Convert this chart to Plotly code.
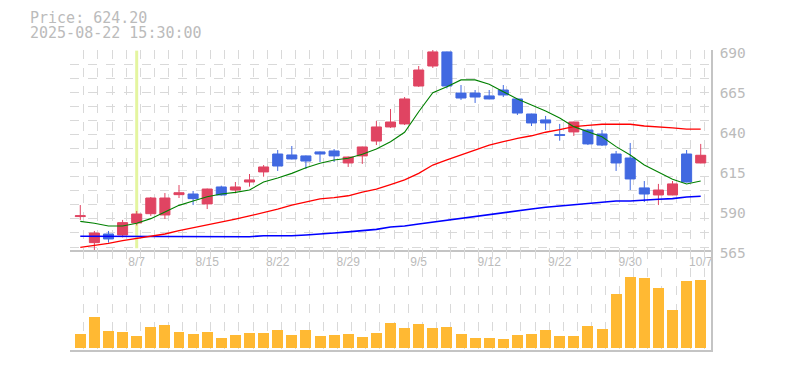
import plotly.graph_objects as go

# ---------------- data ----------------
dates = ["8/1", "8/4", "8/5", "8/6", "8/7", "8/8", "8/12", "8/13", "8/14", "8/15",
         "8/18", "8/19", "8/20", "8/21", "8/22", "8/25", "8/26", "8/27", "8/28", "8/29",
         "9/1", "9/2", "9/3", "9/4", "9/5", "9/8", "9/9", "9/10", "9/11", "9/12",
         "9/16", "9/17", "9/18", "9/19", "9/22", "9/24", "9/25", "9/26", "9/29", "9/30",
         "10/1", "10/2", "10/3", "10/6", "10/7"]

opens = [585.9, 569.6, 575.0, 574.4, 581.9, 587.7, 586.9, 599.6, 600.0, 593.8,
         604.4, 602.5, 607.5, 613.8, 625.0, 624.4, 623.8, 626.3, 626.9, 619.4,
         623.8, 633.1, 641.9, 643.8, 667.5, 680.0, 688.8, 663.1, 663.1, 661.3,
         665.0, 659.4, 650.0, 646.3, 637.1, 638.8, 640.0, 637.5, 625.0, 622.5,
         603.8, 599.4, 599.4, 625.0, 619.4]
highs = [593.1, 576.9, 576.9, 583.8, 589.4, 598.1, 600.6, 605.6, 601.9, 603.4,
         605.2, 607.5, 612.5, 618.1, 627.5, 630.0, 624.1, 626.6, 628.1, 623.4,
         629.6, 645.6, 653.1, 660.6, 680.0, 690.0, 689.0, 668.1, 665.0, 665.0,
         668.1, 659.6, 650.2, 648.8, 643.8, 645.2, 640.6, 640.0, 626.9, 631.9,
         608.1, 606.3, 608.1, 627.5, 631.3]
lows = [583.8, 565.0, 569.6, 572.9, 580.4, 586.3, 584.4, 597.5, 593.1, 590.6,
        599.0, 600.4, 604.6, 610.8, 614.4, 621.6, 615.6, 620.0, 620.0, 616.9,
        618.8, 630.6, 641.3, 643.1, 666.9, 678.8, 666.0, 658.8, 656.9, 659.2,
        660.6, 649.4, 642.5, 640.0, 633.3, 636.3, 630.6, 630.0, 614.4, 602.5,
        595.0, 593.1, 599.2, 607.3, 619.2]
closes = [586.4, 575.6, 571.9, 582.1, 587.5, 597.5, 597.5, 600.8, 597.1, 603.1,
          599.4, 604.4, 608.8, 616.9, 617.5, 621.9, 620.6, 625.0, 623.8, 623.1,
          629.4, 641.9, 645.0, 659.4, 677.5, 688.8, 667.5, 660.0, 660.6, 659.4,
          661.9, 650.6, 644.4, 644.4, 636.7, 645.0, 631.3, 630.6, 619.4, 609.4,
          600.0, 602.5, 606.3, 607.5, 624.2]

ma_short = [582.9, 581.7, 580.0, 580.0, 581.7, 584.6, 588.8, 592.9, 595.6, 598.3,
            600.0, 601.0, 602.5, 607.5, 610.0, 612.9, 616.4, 619.2, 621.3, 622.3,
            624.8, 628.1, 632.7, 638.6, 651.4, 663.3, 667.1, 671.3, 671.3, 668.6,
            663.9, 659.4, 655.6, 651.9, 647.5, 642.1, 638.9, 635.8, 629.6, 624.4,
            618.1, 613.9, 609.2, 606.3, 608.1]
ma_mid = [566.7, 567.9, 569.2, 570.8, 572.3, 573.8, 575.0, 577.1, 578.9, 580.6,
          582.1, 584.3, 586.3, 588.3, 590.6, 593.1, 595.2, 596.9, 597.7, 598.9,
          601.1, 603.1, 605.9, 608.8, 612.9, 618.1, 621.3, 624.4, 627.9, 630.6,
          632.7, 634.8, 636.4, 638.6, 640.2, 642.1, 642.9, 643.6, 643.6, 643.6,
          642.5, 642.1, 641.3, 640.6, 640.6]
ma_long = [573.6, 573.6, 573.6, 573.6, 573.6, 573.6, 573.3, 573.3, 573.3, 573.3,
           573.3, 573.3, 573.3, 573.9, 573.9, 573.9, 574.4, 575.2, 575.6, 576.3,
           577.1, 577.9, 579.4, 580.0, 581.3, 582.5, 583.8, 584.8, 586.1, 587.3,
           588.6, 589.8, 590.6, 591.7, 592.4, 593.1, 594.2, 594.8, 595.6, 595.6,
           596.3, 596.7, 597.1, 598.1, 598.6]

volumes = [41000, 92000, 50000, 47000, 35000, 62000, 68000, 47000, 41000, 47000,
           29000, 38000, 44000, 44000, 53000, 38000, 53000, 35000, 38000, 41000,
           32000, 44000, 74000, 59000, 71000, 59000, 62000, 41000, 29000, 29000,
           26000, 38000, 41000, 53000, 35000, 35000, 65000, 56000, 161000, 212000,
           209000, 179000, 113000, 200000, 203000]

tick_dates = ["8/7", "8/15", "8/22", "8/29", "9/5", "9/12", "9/22", "9/30", "10/7"]
price_ticks = [565, 590, 615, 640, 665, 690]
highlight_date = "8/7"
title_lines = ["Price: 624.20", "2025-08-22 15:30:00"]

# ---------------- styles ----------------
UP = "#E04462"
DOWN = "#4169E1"
VOL = "#FFB933"
GRID = "#d9d9d9"
AXIS = "#c4c4c4"
TXT = "#bbbbbb"
MONO = "DejaVu Sans Mono"

x = list(range(len(dates)))
xr = [-0.73, len(dates) - 1 + 0.73]

fig = go.Figure()

fig.add_trace(go.Candlestick(
    x=x, open=opens, high=highs, low=lows, close=closes,
    increasing=dict(line=dict(color=UP, width=1), fillcolor=UP),
    decreasing=dict(line=dict(color=DOWN, width=1), fillcolor=DOWN),
    whiskerwidth=0, showlegend=False, hoverinfo="skip",
    xaxis="x", yaxis="y"))

for vals, col, w in [(ma_long, "#0000FF", 1.6), (ma_mid, "#FF0000", 1.3), (ma_short, "#008000", 1.1)]:
    fig.add_trace(go.Scatter(x=x, y=vals, mode="lines", line=dict(color=col, width=w),
                             showlegend=False, hoverinfo="skip", xaxis="x", yaxis="y"))

fig.add_trace(go.Bar(x=x, y=volumes, width=0.78, marker=dict(color=VOL, line=dict(width=0)),
                     showlegend=False, hoverinfo="skip", xaxis="x2", yaxis="y2"))

hi = dates.index(highlight_date)
fig.add_shape(type="line", xref="x", yref="y", x0=hi, x1=hi, y0=566.1, y1=689.6,
              line=dict(color="#E4F5A0", width=3), layer="between")

minor_x = dict(tickmode="linear", tick0=0.25, dtick=1, showgrid=True,
               gridcolor=GRID, griddash="dash", gridwidth=1, ticks="")

# page body has an 8px default margin: offsets compensate so the plot lands at 70..711 x 50..350
fig.update_layout(
    width=785, height=370,
    margin=dict(l=62, r=82, t=42, b=28),
    paper_bgcolor="white", plot_bgcolor="white",
    bargap=0, boxgap=0.25, boxgroupgap=0.05,
    xaxis=dict(domain=[0, 1], anchor="y", range=xr,
               tickmode="array", tickvals=[dates.index(d) for d in tick_dates], ticktext=tick_dates,
               showgrid=False, minor=minor_x, zeroline=False,
               showline=True, linecolor=AXIS, linewidth=1.5, ticks="",
               tickfont=dict(family="Liberation Sans", size=12, color=TXT),
               rangeslider=dict(visible=False)),
    yaxis=dict(domain=[1 / 3, 1], anchor="x", range=[564.999, 690.001], side="right",
               tickmode="array", tickvals=price_ticks,
               showgrid=False, zeroline=False,
               minor=dict(tickmode="linear", tick0=566.875, dtick=8.7625, showgrid=True,
                          gridcolor=GRID, griddash="dash", gridwidth=1, ticks=""),
               showline=True, linecolor=AXIS, linewidth=1.5, ticks="",
               ticklabelstandoff=4, ticklabelshift=3,
               tickfont=dict(family=MONO, size=14.5, color=TXT)),
    xaxis2=dict(domain=[0, 1], anchor="y2", range=xr, showticklabels=False,
                showgrid=False, minor=minor_x, zeroline=False,
                showline=True, linecolor=AXIS, linewidth=1.5, ticks=""),
    yaxis2=dict(domain=[0, 1 / 3], anchor="x2", range=[-6000, 294000], side="right",
                showticklabels=False, showgrid=False, zeroline=False,
                showline=True, linecolor=AXIS, linewidth=1.5, ticks=""),
)

for txt, yp in zip(title_lines, [1.1067, 1.0567]):
    fig.add_annotation(text=txt, xref="paper", yref="paper", x=(28 - 70) / 641, y=yp,
                       xanchor="left", yanchor="middle", showarrow=False,
                       font=dict(family=MONO, size=15, color=TXT))

fig.write_html("out.html")
